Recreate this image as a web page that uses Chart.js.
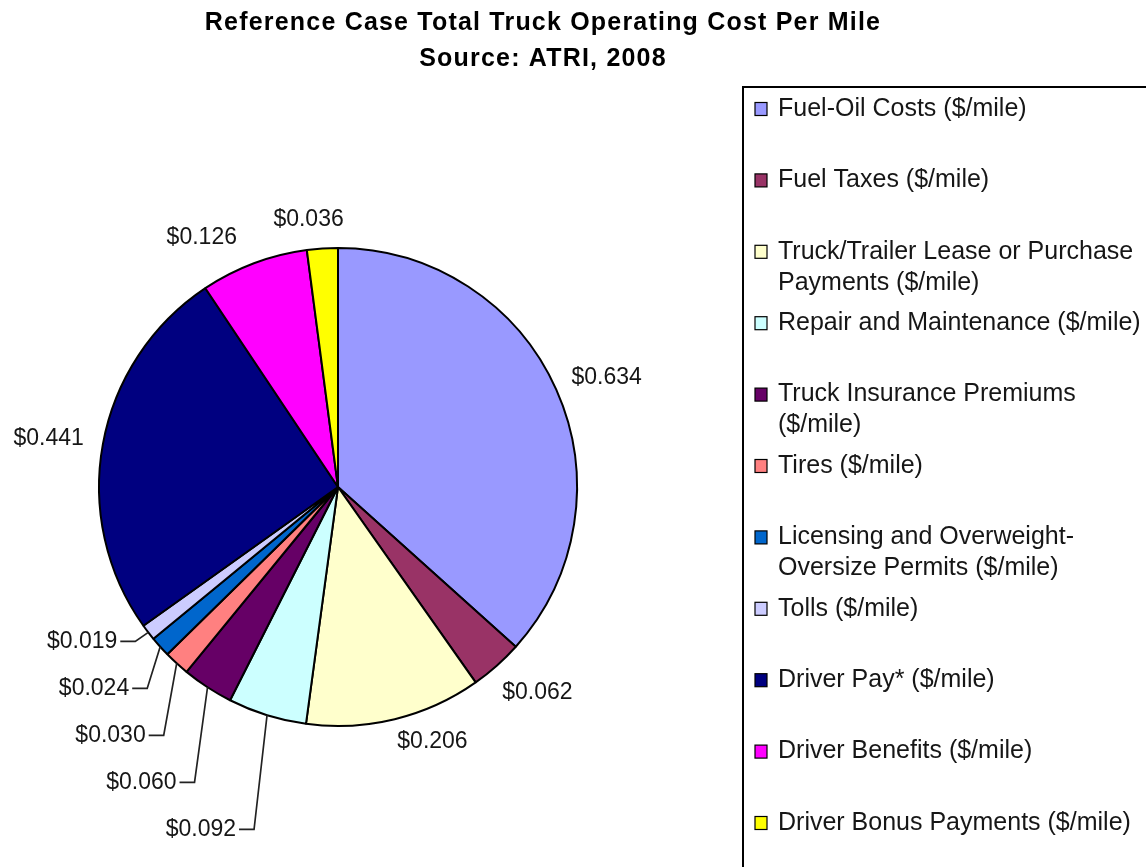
<!DOCTYPE html>
<html>
<head>
<meta charset="utf-8">
<title>Reference Case Total Truck Operating Cost Per Mile</title>
<script src="https://cdn.jsdelivr.net/npm/chart.js@4/dist/chart.umd.min.js"></script>
<style>
  html, body { margin: 0; padding: 0; background: #ffffff; }
  canvas { display: block; }
</style>
</head>
<body>
<canvas id="costPie" width="1146" height="867"></canvas>
<script>
// Cost components, $ per mile
const categories = [
  'Fuel-Oil Costs ($/mile)',
  'Fuel Taxes ($/mile)',
  'Truck/Trailer Lease or Purchase Payments ($/mile)',
  'Repair and Maintenance ($/mile)',
  'Truck Insurance Premiums ($/mile)',
  'Tires ($/mile)',
  'Licensing and Overweight-Oversize Permits ($/mile)',
  'Tolls ($/mile)',
  'Driver Pay* ($/mile)',
  'Driver Benefits ($/mile)',
  'Driver Bonus Payments ($/mile)'
];
const costPerMile = [0.634, 0.062, 0.206, 0.092, 0.060, 0.030, 0.024, 0.019, 0.441, 0.126, 0.036];
const sliceColors = [
  '#9999FF', '#993366', '#FFFFCC', '#CCFFFF', '#660066', '#FF8080',
  '#0066CC', '#CCCCFF', '#000080', '#FF00FF', '#FFFF00'
];
const titleLines = ['Reference Case Total Truck Operating Cost Per Mile', 'Source: ATRI, 2008'];

// Label layout: which slices get leader lines, and small angular nudges (degrees)
const leaderSlices = [3, 4, 5, 6, 7];
const labelNudgeDeg = { 2: -5, 9: -6, 10: -2 };
const labelExtraGap = { 1: 6, 9: 10 };

const TEXT = '#161616';
const FONT = '"Liberation Sans", Arial, Helvetica, sans-serif';

function money(v) { return '$' + v.toFixed(3); }

const titlePlugin = {
  id: 'twoLineTitle',
  afterDraw(chart) {
    const ctx = chart.ctx;
    ctx.save();
    ctx.fillStyle = '#000';
    ctx.textAlign = 'center';
    ctx.textBaseline = 'middle';
    ctx.font = 'bold 25px ' + FONT;
    if ('letterSpacing' in ctx) ctx.letterSpacing = '1.2px';
    ctx.fillText(titleLines[0], 543, 23);
    ctx.fillText(titleLines[1], 543, 59);
    ctx.restore();
  }
};

const sliceLabelPlugin = {
  id: 'sliceLabels',
  afterDatasetsDraw(chart) {
    const ctx = chart.ctx;
    const arcs = chart.getDatasetMeta(0).data;
    ctx.save();
    ctx.font = '23px ' + FONT;
    ctx.fillStyle = TEXT;
    ctx.textBaseline = 'middle';
    const h = 20;

    // labels placed just outside the rim
    arcs.forEach((arc, i) => {
      if (leaderSlices.includes(i)) return;
      const p = arc.getProps(['x', 'y', 'startAngle', 'endAngle', 'outerRadius'], true);
      const a = (p.startAngle + p.endAngle) / 2 + (labelNudgeDeg[i] || 0) * Math.PI / 180;
      const ux = Math.cos(a), uy = Math.sin(a);
      const txt = money(costPerMile[i]);
      const w = ctx.measureText(txt).width;
      const R = p.outerRadius + 20 + (labelExtraGap[i] || 0);
      const cx = p.x + R * ux + ux * w / 2;
      const cy = p.y + R * uy + uy * h / 2;
      ctx.textAlign = 'center';
      ctx.fillText(txt, cx, cy);
    });

    // small slices: stacked labels joined to the rim by elbow leader lines
    const items = leaderSlices.map(i => {
      const p = arcs[i].getProps(['x', 'y', 'startAngle', 'endAngle', 'outerRadius'], true);
      const a = (p.startAngle + p.endAngle) / 2;
      const ex = p.x + p.outerRadius * Math.cos(a);
      const ey = p.y + p.outerRadius * Math.sin(a);
      const ny = p.y + (p.outerRadius + 15) * Math.sin(a);
      return { i, ex, ey, ny };
    }).sort((A, B) => A.ny - B.ny);

    let prev = -Infinity;
    const gapY = 47;
    ctx.strokeStyle = '#222';
    ctx.lineWidth = 1.7;
    items.forEach(it => {
      const y = Math.max(it.ny, prev + gapY);
      prev = y;
      const kx = it.ex - 13;
      ctx.beginPath();
      ctx.moveTo(it.ex, it.ey);
      ctx.lineTo(kx, y);
      ctx.lineTo(kx - 15, y);
      ctx.stroke();
      ctx.textAlign = 'right';
      ctx.fillText(money(costPerMile[it.i]), kx - 18, y);
    });
    ctx.restore();
  }
};

function wrapText(ctx, text, maxW) {
  // break at spaces, and after hyphens inside words
  const tokens = text.match(/[^\s-]+-?|\s+/g) || [];
  const lines = [];
  let line = '';
  tokens.forEach(tok => {
    const trial = line + tok;
    if (line.trim() && ctx.measureText(trial.trimEnd()).width > maxW) {
      lines.push(line.trimEnd());
      line = tok.trimStart();
    } else {
      line = trial;
    }
  });
  if (line.trim()) lines.push(line.trimEnd());
  return lines;
}

const legendPlugin = {
  id: 'boxedLegend',
  afterDraw(chart) {
    const ctx = chart.ctx;
    ctx.save();
    const left = 743, top = 87;
    ctx.strokeStyle = '#000';
    ctx.lineWidth = 2;
    ctx.strokeRect(left, top, 600, 900);

    ctx.font = '25px ' + FONT;
    ctx.textBaseline = 'middle';
    ctx.textAlign = 'left';
    const firstY = 109, step = 71.4, lineH = 31;
    categories.forEach((label, i) => {
      const y = firstY + i * step;
      ctx.fillStyle = sliceColors[i];
      ctx.fillRect(755, y - 6.5, 12, 13);
      ctx.strokeStyle = '#000';
      ctx.lineWidth = 1.2;
      ctx.strokeRect(755, y - 6.5, 12, 13);
      ctx.fillStyle = TEXT;
      wrapText(ctx, label, 372).forEach((ln, k) => ctx.fillText(ln, 778, y + k * lineH));
    });
    ctx.restore();
  }
};

new Chart(document.getElementById('costPie'), {
  type: 'pie',
  data: {
    labels: categories,
    datasets: [{
      data: costPerMile,
      backgroundColor: sliceColors,
      borderColor: '#000',
      borderWidth: 2
    }]
  },
  options: {
    responsive: false,
    animation: false,
    layout: { padding: { left: 98, top: 247, right: 568, bottom: 140 } },
    plugins: {
      legend: { display: false },
      title: { display: false },
      tooltip: { enabled: false }
    }
  },
  plugins: [sliceLabelPlugin, legendPlugin, titlePlugin]
});
</script>
</body>
</html>
